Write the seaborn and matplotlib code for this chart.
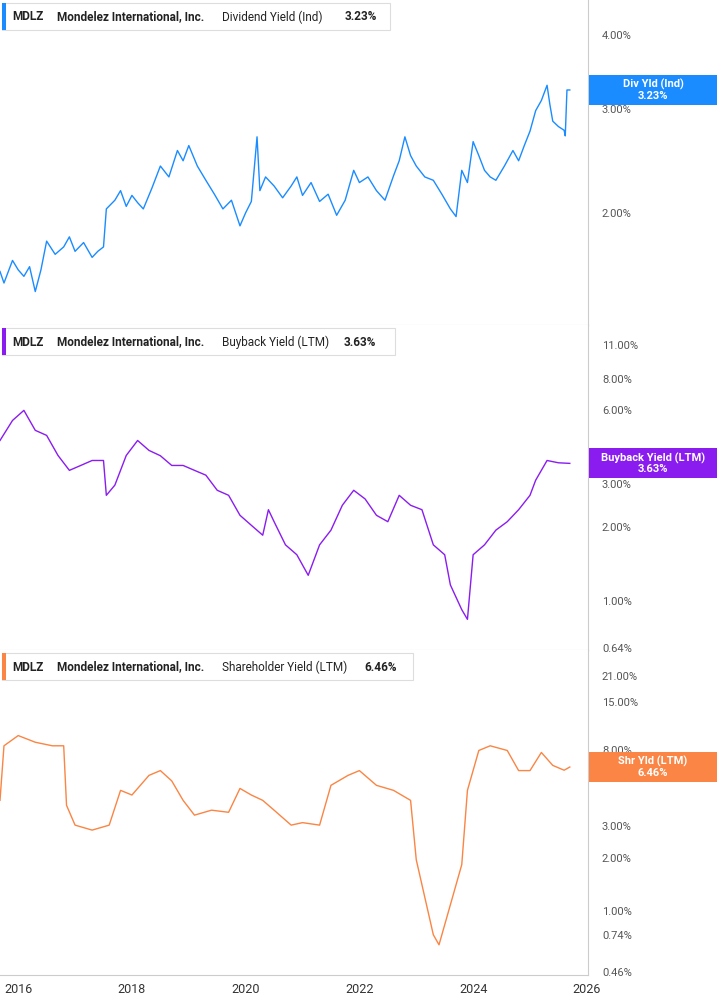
import pandas as pd
import matplotlib.pyplot as plt
import matplotlib.ticker as mticker
import seaborn as sns

plt.rcParams["font.family"] = "Roboto"

# decimal-year dates and yields (%)
div_t = [2015.68, 2015.75, 2015.9, 2016.0, 2016.1, 2016.2, 2016.3, 2016.4, 2016.5, 2016.65, 2016.8, 2016.9,
         2017.0, 2017.15, 2017.3, 2017.4, 2017.5, 2017.55, 2017.7, 2017.8, 2017.9, 2018.0, 2018.1,
         2018.2, 2018.35, 2018.5, 2018.65, 2018.8, 2018.9, 2019.0, 2019.15, 2019.3, 2019.45, 2019.6,
         2019.75, 2019.9, 2020.0, 2020.1, 2020.2, 2020.25, 2020.35, 2020.5, 2020.65, 2020.8, 2020.9,
         2021.0, 2021.15, 2021.3, 2021.45, 2021.6, 2021.75, 2021.9, 2022.0, 2022.15, 2022.3, 2022.45,
         2022.6, 2022.7, 2022.8, 2022.9, 2023.0, 2023.15, 2023.3, 2023.45, 2023.6, 2023.7, 2023.8,
         2023.9, 2024.0, 2024.1, 2024.2, 2024.3, 2024.4, 2024.55, 2024.7, 2024.8, 2024.9, 2025.0,
         2025.1, 2025.2, 2025.3, 2025.35, 2025.4, 2025.5, 2025.6, 2025.62, 2025.65, 2025.7]
div_v = [1.59, 1.52, 1.66, 1.60, 1.56, 1.62, 1.47, 1.60, 1.79, 1.70, 1.75, 1.82,
         1.72, 1.78, 1.68, 1.72, 1.75, 2.03, 2.10, 2.18, 2.05, 2.14, 2.08,
         2.03, 2.20, 2.40, 2.30, 2.55, 2.45, 2.60, 2.40, 2.27, 2.15, 2.03,
         2.10, 1.90, 2.00, 2.09, 2.69, 2.18, 2.30, 2.22, 2.12, 2.22, 2.30,
         2.14, 2.25, 2.09, 2.15, 1.98, 2.10, 2.36, 2.25, 2.30, 2.18, 2.10,
         2.31, 2.45, 2.69, 2.50, 2.40, 2.30, 2.27, 2.15, 2.03, 1.97, 2.36,
         2.25, 2.64, 2.50, 2.36, 2.30, 2.27, 2.40, 2.55, 2.45, 2.60, 2.75,
         2.98, 3.10, 3.29, 3.05, 2.86, 2.80, 2.76, 2.70, 3.23, 3.23]

bb_t = [2015.68, 2015.9, 2016.1, 2016.3, 2016.5, 2016.7, 2016.9, 2017.1, 2017.3, 2017.5, 2017.55, 2017.7,
        2017.9, 2018.1, 2018.3, 2018.5, 2018.7, 2018.9, 2019.1, 2019.3, 2019.5, 2019.7, 2019.9, 2020.1,
        2020.3, 2020.4, 2020.5, 2020.7, 2020.9, 2021.1, 2021.3, 2021.5, 2021.7, 2021.9, 2022.1, 2022.3,
        2022.5, 2022.7, 2022.9, 2023.1, 2023.3, 2023.5, 2023.6, 2023.8, 2023.9, 2024.0, 2024.2, 2024.4,
        2024.6, 2024.8, 2025.0, 2025.1, 2025.3, 2025.5, 2025.7]
bb_v = [4.5, 5.43, 5.97, 4.95, 4.72, 3.91, 3.40, 3.56, 3.73, 3.73, 2.69, 2.96,
        3.91, 4.5, 4.1, 3.9, 3.56, 3.56, 3.40, 3.25, 2.82, 2.69, 2.23, 2.03,
        1.85, 2.35, 2.1, 1.69, 1.54, 1.27, 1.69, 1.94, 2.45, 2.82, 2.6, 2.23,
        2.1, 2.69, 2.45, 2.35, 1.69, 1.54, 1.16, 0.92, 0.84, 1.54, 1.69, 1.94,
        2.1, 2.35, 2.69, 3.1, 3.73, 3.65, 3.63]

sh_t = [2015.68, 2015.75, 2016.0, 2016.3, 2016.6, 2016.8, 2016.85, 2017.0, 2017.3, 2017.6, 2017.8, 2018.0,
        2018.3, 2018.5, 2018.7, 2018.9, 2019.1, 2019.4, 2019.7, 2019.9, 2020.1, 2020.3, 2020.5, 2020.8,
        2021.0, 2021.3, 2021.5, 2021.8, 2022.0, 2022.3, 2022.6, 2022.9, 2023.0, 2023.3, 2023.4, 2023.6,
        2023.8, 2023.9, 2024.1, 2024.3, 2024.6, 2024.8, 2025.0, 2025.2, 2025.4, 2025.6, 2025.7]
sh_v = [4.2, 8.5, 9.7, 8.9, 8.5, 8.5, 3.94, 3.05, 2.86, 3.05, 4.78, 4.5,
        5.8, 6.17, 5.4, 4.2, 3.47, 3.7, 3.6, 4.9, 4.5, 4.2, 3.7, 3.05,
        3.15, 3.05, 5.1, 5.8, 6.17, 5.1, 4.78, 4.2, 1.95, 0.74, 0.65, 1.09,
        1.83, 4.78, 8.0, 8.5, 8.0, 6.17, 6.17, 7.8, 6.6, 6.2, 6.46]

panels = [
    (div_t, div_v, "#1a8cff", "Dividend Yield (Ind)", "3.23%", "Div Yld (Ind)",
     (1.29, 4.59), [2, 3, 4], 345, 390),
    (bb_t, bb_v, "#8a1cf0", "Buyback Yield (LTM)", "3.63%", "Buyback Yield (LTM)",
     (0.63, 13.3), [0.64, 1, 2, 3, 6, 8, 11], 344, 395),
    (sh_t, sh_v, "#fa8544", "Shareholder Yield (LTM)", "6.46%", "Shr Yld (LTM)",
     (0.44, 29.3), [0.46, 0.74, 1, 2, 3, 6, 8, 15, 21], 364, 413),
]

W, H = 717.0, 1005.0
fig = plt.figure(figsize=(7.17, 10.05), dpi=100)
tops = [0, 325, 650]

for i, (t, v, col, name, last, short, ylim, ticks, xlast, boxr) in enumerate(panels):
    ax = fig.add_axes([0, 1 - (tops[i] + 325) / H, 588 / W, 325 / H])
    df = pd.DataFrame({"t": t, "v": v})
    sns.lineplot(data=df, x="t", y="v", ax=ax, color=col, lw=1.0)
    ax.set_yscale("log")
    ax.set_ylim(*ylim)
    ax.set_xlim(2015.68, 2026.02)
    ax.yaxis.tick_right()
    ax.yaxis.set_major_locator(mticker.FixedLocator(ticks))
    ax.yaxis.set_minor_locator(mticker.NullLocator())
    # the label box on the right hides a tick label, as in the reference
    ax.set_yticklabels(["" if (i == 2 and x == 6) else f"{x:.2f}%" for x in ticks])
    ax.tick_params(axis="y", length=0, labelsize=8, labelcolor="#555555", pad=10)
    ax.set_xlabel("")
    ax.set_ylabel("")
    for s in ["left", "top"]:
        ax.spines[s].set_visible(False)
    ax.spines["right"].set_color("#cccccc")
    ax.spines["bottom"].set_color("#cccccc")
    if i < 2:
        ax.set_xticks([])
    else:
        ax.set_xticks([2016, 2018, 2020, 2022, 2024, 2026])
        ax.set_xticklabels(["2016", "2018", "2020", "2022", "2024", "2026"])
        ax.tick_params(axis="x", length=0, labelsize=9, labelcolor="#333333", pad=6)

    # header box
    y0 = tops[i]
    fig.patches.append(plt.Rectangle((2 / W, 1 - (y0 + 30) / H), (boxr - 2) / W, 27 / H,
                                     transform=fig.transFigure, fc="white", ec="#dddddd", lw=0.8))
    fig.patches.append(plt.Rectangle((2 / W, 1 - (y0 + 30) / H), 4 / W, 27 / H,
                                     transform=fig.transFigure, fc=col, ec="none"))
    yc = 1 - (y0 + 17) / H
    fig.text(12 / W, yc, "MDLZ", fontsize=8.5, fontweight="bold", va="center", color="#222222")
    fig.text(57 / W, yc, "Mondelez International, Inc.", fontsize=8.5, fontweight="bold",
             va="center", color="#222222")
    fig.text(222 / W, yc, name, fontsize=8.5, va="center", color="#222222")
    fig.text(xlast / W, yc, last, fontsize=8.5, fontweight="bold", va="center", color="#222222")

    # last value label on the right
    yl = ax.transData.transform((0, v[-1]))[1] / fig.bbox.height
    fig.patches.append(plt.Rectangle((589 / W, yl - 15 / H), 128 / W, 30 / H,
                                     transform=fig.transFigure, fc=col, ec="none"))
    fig.text(653 / W, yl, f"{short}\n{last}", ha="center", va="center", fontsize=8,
             fontweight="bold", color="white", linespacing=1.1)

plt.savefig("out.png", dpi=100)
